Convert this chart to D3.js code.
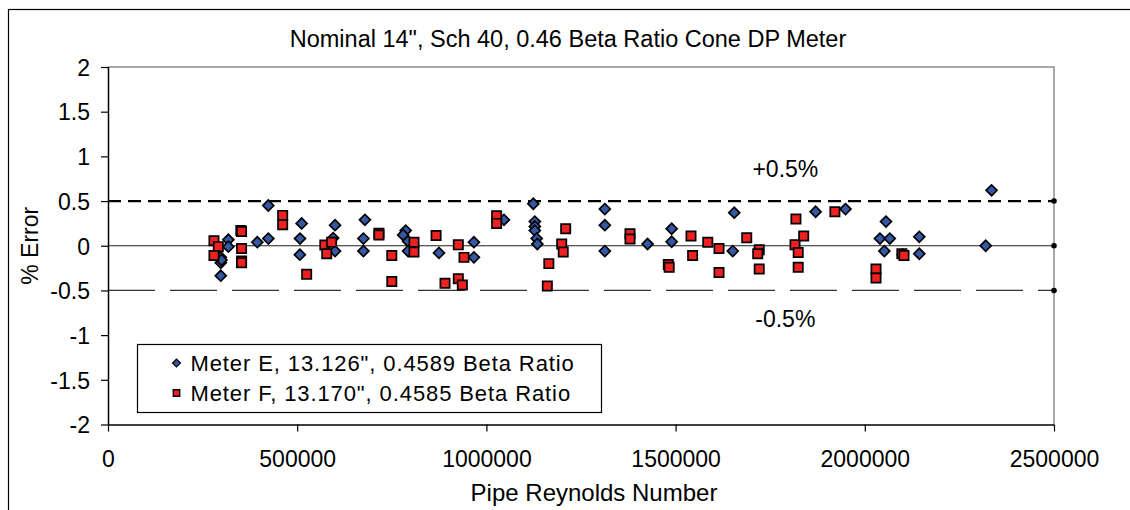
<!DOCTYPE html>
<html>
	<head>
		<meta charset="utf-8">
		<title>Cone DP Meter % Error</title>
		<script src="https://d3js.org/d3.v7.min.js"></script>
		<style>
			body { margin: 0; background: #fff; }
			text { font-family: "Liberation Sans", Arial, sans-serif; fill: #000; }
		</style>
	</head>
	<body>
		<script>

			// Meter E (blue diamonds)
			var meterE_re = [298000, 298000, 300000, 298000, 318000, 318000, 394600, 423600, 423700, 511800,
							507400, 507000, 600000, 595000, 600000, 679000, 675000, 675000, 786700, 780000,
							793000, 793000, 874700, 967000, 967000, 1046500, 1124000, 1128000, 1128000, 1128000,
							1133000, 1134600, 1313000, 1313000, 1313000, 1426000, 1489600, 1489600, 1655000, 1651000,
							1870000, 1949000, 2056000, 2040000, 2066000, 2051600, 2144000, 2144000, 2319500, 2335000,
							2100000];
			var meterE_err = [-0.13, -0.19, -0.16, -0.335, 0.067, -0.01, 0.04, 0.45, 0.08, 0.25,
							0.08, -0.10, 0.23, 0.086, -0.06, 0.29, 0.08, -0.06, 0.17, 0.12,
							0.05, -0.06, -0.08, 0.04, -0.13, 0.29, 0.47, 0.27, 0.215, 0.17,
							0.08, 0.02, 0.41, 0.23, -0.06, 0.02, 0.19, 0.045, 0.37, -0.06,
							0.38, 0.41, 0.27, 0.08, 0.08, -0.06, 0.10, -0.09, 0.0, 0.62,
							-0.1];

			// Meter F (red squares)
			var meterF_re = [280000, 291500, 280000, 351000, 353000, 353000, 353000, 353000, 461600, 461600,
							525000, 573000, 591000, 578000, 716000, 716000, 750000, 750000, 808700, 808700,
							867000, 890600, 925800, 925800, 936400, 940800, 1027000, 1027000, 1209500, 1199000,
							1203000, 1165000, 1161000, 1379500, 1379500, 1480700, 1483000, 1540700, 1545000, 1585000,
							1614700, 1614700, 1688000, 1721000, 1717000, 1721000, 1818000, 1815600, 1838500, 1824000,
							1824000, 1921000, 2029600, 2029600, 2098000, 2103600];
			var meterF_err = [0.056, -0.01, -0.11, 0.17, 0.16, -0.03, -0.17, -0.19, 0.34, 0.235,
							-0.32, 0.008, 0.04, -0.09, 0.14, 0.12, -0.11, -0.40, 0.04, -0.07,
							0.115, -0.42, 0.01, -0.37, -0.44, -0.13, 0.335, 0.25, 0.19, 0.02,
							-0.07, -0.20, -0.45, 0.134, 0.075, -0.21, -0.24, 0.11, -0.11, 0.04,
							-0.03, -0.30, 0.09, -0.045, -0.09, -0.26, 0.30, 0.01, 0.11, -0.075,
							-0.24, 0.38, -0.26, -0.36, -0.09, -0.11];

			var xTicks = [0, 500000, 1000000, 1500000, 2000000, 2500000];
			var yTicks = [-2, -1.5, -1, -0.5, 0, 0.5, 1, 1.5, 2];
			var limitLines = [0.5, 0, -0.5];
			var xRange = [0, 2500000];

			var seriesE = meterE_re.map(function(d, i) { return [d, meterE_err[i]]; });
			var seriesF = meterF_re.map(function(d, i) { return [d, meterF_err[i]]; });

			//Width and height
			var w = 1130;
			var h = 510;
			// plot area edges ("top" is reserved on window, so prefix)
			var pLeft = 108, pRight = 1054, pTop = 67, pBottom = 424.5;

			var xScale = d3.scaleLinear().domain([0, 2500000]).range([pLeft, pRight]);
			var yScale = d3.scaleLinear().domain([-2, 2]).range([pBottom, pTop]);

			var svg = d3.select("body")
						.append("svg")
						.attr("width", w)
						.attr("height", h);

			// outer chart frame (cut off at right / bottom)
			svg.append("rect")
				.attr("x", 8.5).attr("y", 9.5)
				.attr("width", w + 20).attr("height", h + 20)
				.attr("fill", "none")
				.attr("stroke", "#000")
				.attr("stroke-width", 1.2);

			// plot border top and right in gray
			svg.append("path")
				.attr("d", "M" + pLeft + "," + pTop + "H" + pRight + "V" + pBottom)
				.attr("fill", "none")
				.attr("stroke", "#8c8c8c")
				.attr("stroke-width", 1.5);

			// reference lines
			var line = d3.line()
				.x(function(d) { return xScale(d[0]); })
				.y(function(d) { return yScale(d[1]); });

			var lineStyles = {
				"0.5": { dash: "13,7", width: 2.2, color: "#000" },
				"0": { dash: null, width: 1.2, color: "#222" },
				"-0.5": { dash: "47,15", width: 1.2, color: "#333" }
			};

			limitLines.forEach(function(v) {
				var st = lineStyles[String(v)];
				svg.append("path")
					.datum(xRange.map(function(x) { return [x, v]; }))
					.attr("d", line)
					.attr("fill", "none")
					.attr("stroke", st.color)
					.attr("stroke-width", st.width)
					.attr("stroke-dasharray", st.dash);
				svg.append("circle")
					.attr("cx", xScale(xRange[1]))
					.attr("cy", yScale(v))
					.attr("r", 2.8)
					.attr("fill", "#000");
			});

			// axes
			var xAxis = d3.axisBottom(xScale).tickValues(xTicks).tickSize(7).tickFormat(d3.format("d"));
			var yAxis = d3.axisLeft(yScale).tickValues(yTicks).tickSize(7).tickFormat(function(d) { return d; });

			var gx = svg.append("g")
				.attr("transform", "translate(0," + pBottom + ")")
				.call(xAxis);
			gx.select(".domain").attr("d", "M" + pLeft + ",0.5H" + pRight).attr("stroke-width", 1.5);
			gx.selectAll(".tick line").attr("stroke-width", 1.2);
			gx.selectAll(".tick text")
				.attr("y", 42)
				.attr("dy", 0)
				.style("font-family", "Liberation Sans, Arial, sans-serif")
				.style("font-size", "23px");

			var gy = svg.append("g")
				.attr("transform", "translate(" + pLeft + ",0)")
				.call(yAxis);
			gy.select(".domain").attr("d", "M0.5," + pTop + "V" + pBottom).attr("stroke-width", 1.5);
			gy.selectAll(".tick line").attr("stroke-width", 1.2);
			gy.selectAll(".tick text")
				.attr("x", -18)
				.attr("dy", "0.36em")
				.style("font-family", "Liberation Sans, Arial, sans-serif")
				.style("font-size", "23px");

			// markers
			var diamond = d3.symbol().type(d3.symbolSquare).size(60);
			var square = d3.symbol().type(d3.symbolSquare).size(86);

			svg.append("g").selectAll("path")
				.data(seriesE)
				.enter()
				.append("path")
				.attr("d", diamond)
				.attr("transform", function(d) {
					return "translate(" + xScale(d[0]) + "," + yScale(d[1]) + ") rotate(45)";
				})
				.attr("fill", "#3558a5")
				.attr("stroke", "#000")
				.attr("stroke-width", 1.7);

			svg.append("g").selectAll("path")
				.data(seriesF)
				.enter()
				.append("path")
				.attr("d", square)
				.attr("transform", function(d) {
					return "translate(" + xScale(d[0]) + "," + yScale(d[1]) + ")";
				})
				.attr("fill", "#ee2020")
				.attr("stroke", "#000")
				.attr("stroke-width", 1.7);

			// titles
			svg.append("text")
				.attr("x", 568)
				.attr("y", 47)
				.attr("text-anchor", "middle")
				.attr("font-size", "23.5px")
				.text("Nominal 14\", Sch 40, 0.46 Beta Ratio Cone DP Meter");

			svg.append("text")
				.attr("x", 594)
				.attr("y", 501)
				.attr("text-anchor", "middle")
				.attr("font-size", "24px")
				.text("Pipe Reynolds Number");

			svg.append("text")
				.attr("transform", "translate(38," + ((pTop + pBottom) / 2) + ") rotate(-90)")
				.attr("text-anchor", "middle")
				.attr("font-size", "23px")
				.text("% Error");

			// line annotations
			svg.append("text")
				.attr("x", xScale(1790000)).attr("y", yScale(0.5) - 24)
				.attr("text-anchor", "middle")
				.attr("font-size", "23px")
				.text("+0.5%");
			svg.append("text")
				.attr("x", xScale(1790000)).attr("y", yScale(-0.5) + 37)
				.attr("text-anchor", "middle")
				.attr("font-size", "23px")
				.text("-0.5%");

			// legend
			var legend = svg.append("g").attr("transform", "translate(137.5,344.5)");
			legend.append("rect")
				.attr("width", 464).attr("height", 68)
				.attr("fill", "#fff")
				.attr("stroke", "#000")
				.attr("stroke-width", 1.2);

			var legendItems = [
				{ label: "Meter E, 13.126\", 0.4589 Beta Ratio", sym: d3.symbol().type(d3.symbolSquare).size(30), rot: 45, fill: "#3558a5" },
				{ label: "Meter F, 13.170\", 0.4585 Beta Ratio", sym: d3.symbol().type(d3.symbolSquare).size(42), rot: 0, fill: "#ee2020" }
			];

			legendItems.forEach(function(it, i) {
				var yy = 18.5 + i * 30;
				legend.append("path")
					.attr("d", it.sym)
					.attr("transform", "translate(39," + yy + ") rotate(" + it.rot + ")")
					.attr("fill", it.fill)
					.attr("stroke", "#000")
					.attr("stroke-width", 1.3);
				legend.append("text")
					.attr("x", 53)
					.attr("y", yy + 8)
					.attr("font-size", "22px")
					.attr("letter-spacing", "0.9px")
					.text(it.label);
			});

		</script>
	</body>
</html>
